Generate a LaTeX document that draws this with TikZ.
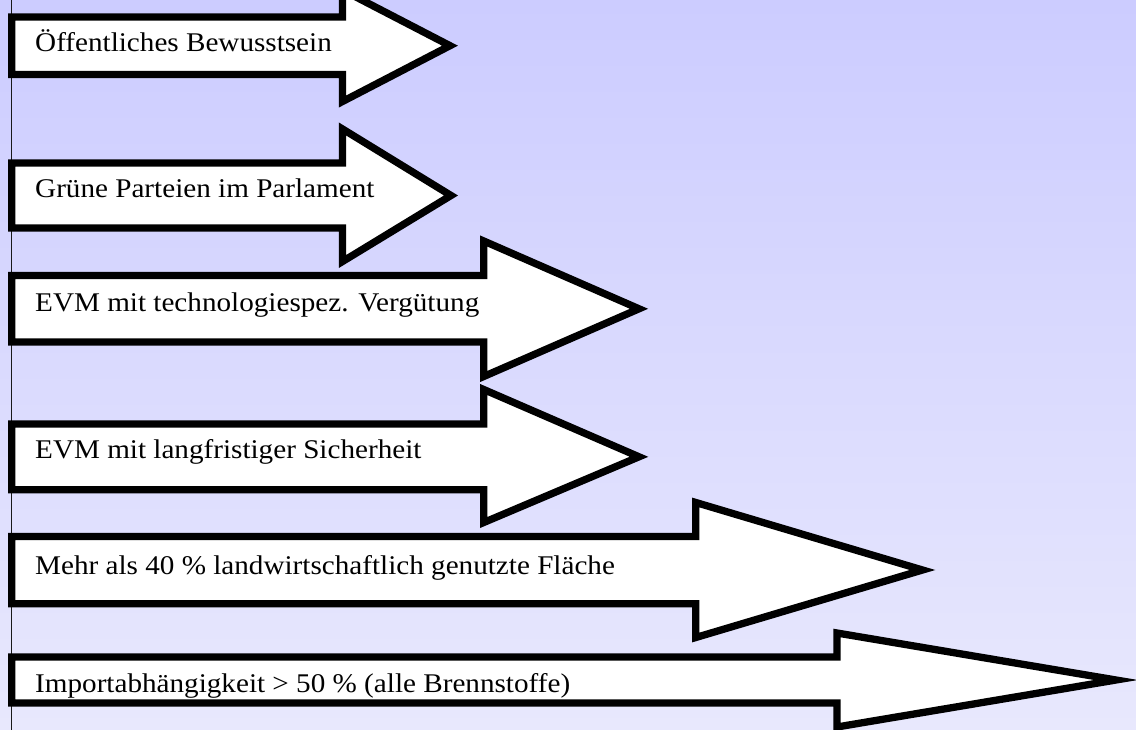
\documentclass[tikz,border=0pt]{standalone}
\usepackage{fontspec}
\setmainfont[FakeStretch=1.08]{Liberation Serif}
\begin{document}
\begin{tikzpicture}[x=1pt,y=-1pt,
  arrowbox/.style={draw=black, fill=white, line width=7.3pt, line join=miter, miter limit=12},
  label/.style={anchor=base west, inner sep=0pt, font=\fontsize{27}{31}\selectfont, text=black},
  axisline/.style={draw=black!90, line width=1.5pt}]
\useasboundingbox (0,0) rectangle (1136,730);
\clip (0,0) rectangle (1136,730);
\shade[top color={rgb,255:red,204;green,204;blue,255}, bottom color={rgb,255:red,232;green,232;blue,253}] (0,0) rectangle (1136,730);
\coordinate (axtop) at (11.7,0);
\coordinate (axbot) at (11.7,730);
\draw[axisline] (axtop) -- (axbot);
% arrow 1
\draw[arrowbox] (11.7,17) -- (342.5,17) -- (342.5,-10) -- (450,45.7) -- (342.5,101.5) -- (342.5,74.5) -- (11.7,74.5) -- cycle;
\node[label] (t1) at (35,51.7) {Öffentliches Bewusstsein};
% arrow 2
\draw[arrowbox] (11.7,163) -- (342.5,163) -- (342.5,129) -- (451,195.5) -- (342.5,261.5) -- (342.5,228) -- (11.7,228) -- cycle;
\node[label] (t2) at (35,197.3) {Grüne Parteien im Parlament};
% arrow 3
\draw[arrowbox] (11.7,275.5) -- (483.7,275.5) -- (483.7,241) -- (639,308.8) -- (483.7,376.5) -- (483.7,342) -- (11.7,342) -- cycle;
\node[label] (t3) at (35,311.7) {EVM mit technologiespez. Vergütung};
% arrow 4
\draw[arrowbox] (11.7,424) -- (483.7,424) -- (483.7,389.5) -- (639,456.8) -- (483.7,522.5) -- (483.7,489.7) -- (11.7,489.7) -- cycle;
\node[label] (t4) at (35,458.3) {EVM mit langfristiger Sicherheit};
% arrow 5
\draw[arrowbox] (11.7,536.5) -- (695.8,536.5) -- (695.8,502.5) -- (922.5,570) -- (695.8,637.5) -- (695.8,603.7) -- (11.7,603.7) -- cycle;
\node[label] (t5) at (35,574) {Mehr als 40 \% landwirtschaftlich genutzte Fläche};
% arrow 6
\draw[arrowbox] (11.7,657) -- (837,657) -- (837,633) -- (1116,680) -- (837,727) -- (837,703) -- (11.7,703) -- cycle;
\node[label] (t6) at (35,692.7) {Importabhängigkeit > 50 \% (alle Brennstoffe)};
\end{tikzpicture}
\end{document}
